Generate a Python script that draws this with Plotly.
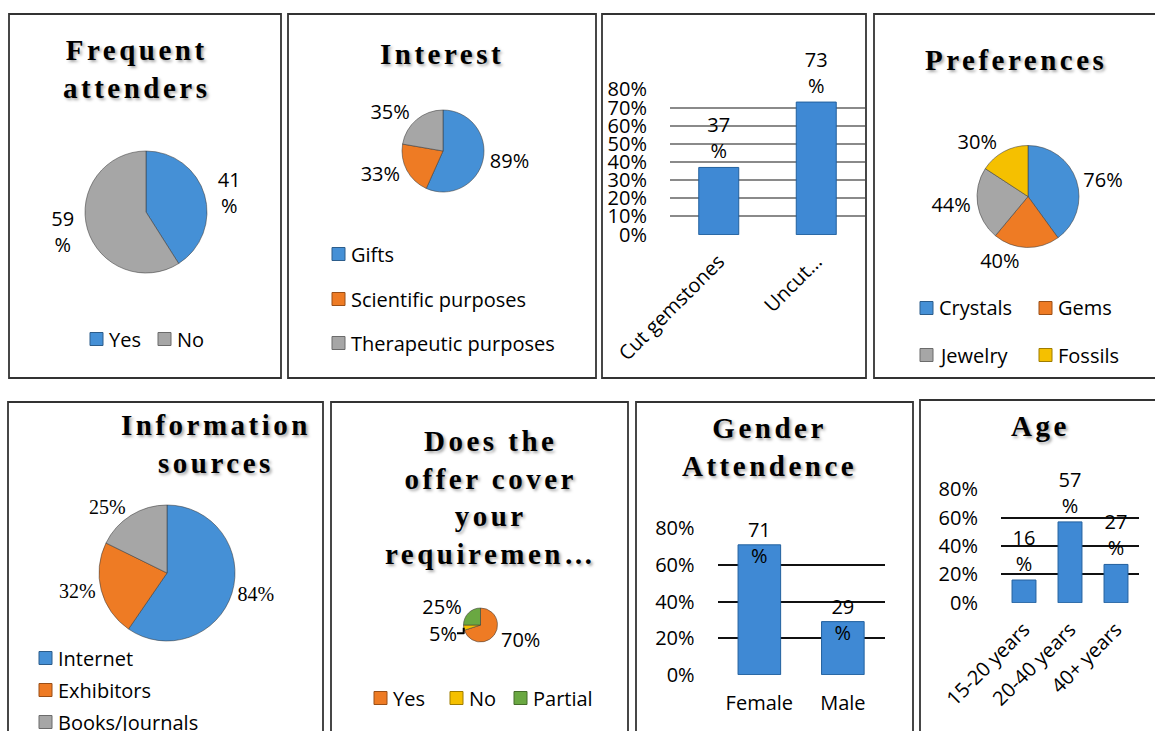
import plotly.graph_objects as go

W, H = 1155, 731


def fx(x):
    return x / W


def fy(y):
    return 1 - y / H


SANS = "Open Sans"
SERIF = "Liberation Serif"
FS = 20

# ---------------- data ----------------
freq_labels = ["Yes", "No"]
freq_values = [41, 59]

interest_labels = ["Gifts", "Scientific purposes", "Therapeutic purposes"]
interest_values = [89, 33, 35]

gem_categories = ["Cut gemstones", "Uncut…"]
gem_values = [37, 73]

pref_labels = ["Crystals", "Gems", "Jewelry", "Fossils"]
pref_values = [76, 40, 44, 30]

info_labels = ["Internet", "Exhibitors", "Books/Journals"]
info_values = [84, 32, 25]

offer_labels = ["Yes", "No", "Partial"]
offer_values = [70, 5, 25]

gender_categories = ["Female", "Male"]
gender_values = [71, 29]

age_categories = ["15-20 years", "20-40 years", "40+ years"]
age_values = [16, 57, 27]

y_ticks_fine = [0, 10, 20, 30, 40, 50, 60, 70, 80]
y_ticks_coarse = [0, 20, 40, 60, 80]

# ---------------- styles ----------------
BLUE = "#4590d6"
ORANGE = "#ee7b24"
GRAY = "#a6a6a6"
YELLOW = "#f5c000"
GREEN = "#6aa842"
BAR = "#3f89d4"
BAR_EDGE = "#22609e"


def darker(hexcol, f=0.65):
    h = hexcol.lstrip("#")
    r, g, b = (int(h[i:i + 2], 16) for i in (0, 2, 4))
    return "rgb(%d,%d,%d)" % (r * f, g * f, b * f)


fig = go.Figure()
shapes = []
annotations = []


def add_pie(labels, values, colors, cx, cy, r, template, family=SANS):
    fig.add_trace(go.Pie(
        labels=labels, values=values, sort=False, direction="clockwise", rotation=0,
        marker=dict(colors=colors, line=dict(color="rgba(60,60,60,0.55)", width=1)),
        textposition="outside", texttemplate=template,
        textfont=dict(family=family, size=FS, color="black"),
        domain=dict(x=[fx(cx - r), fx(cx + r)], y=[fy(cy + r), fy(cy - r)]),
        showlegend=False, hoverinfo="label+value", automargin=False,
    ))


def add_legend(labels, colors, positions, size=13):
    for lab, col, (sx, sy) in zip(labels, colors, positions):
        shapes.append(dict(type="rect", xref="paper", yref="paper",
                           x0=fx(sx), x1=fx(sx + size), y0=fy(sy + size / 2), y1=fy(sy - size / 2),
                           fillcolor=col, line=dict(color=darker(col), width=1)))
        annotations.append(dict(text=lab, x=fx(sx + size + 4), y=fy(sy), xref="paper", yref="paper",
                                xanchor="left", yanchor="middle", showarrow=False,
                                font=dict(family=SANS, size=FS, color="black")))


def add_title(lines, cx, cy, size=29, spacing=3.5):
    txt = "<br>".join('<span style="letter-spacing:%spx">%s</span>' % (spacing, l) for l in lines)
    annotations.append(dict(text=txt, x=fx(cx), y=fy(cy), xref="paper", yref="paper",
                            xanchor="center", yanchor="middle", showarrow=False, align="center",
                            font=dict(family=SERIF, size=size, color="black", weight="bold",
                                      shadow="2px 2px 3px rgba(0,0,0,0.35)")))


def add_bar(cats, vals, xa, ya, width, label_mode):
    fig.add_trace(go.Bar(
        x=cats, y=vals, xaxis=xa, yaxis=ya, width=width,
        marker=dict(color=BAR, line=dict(color=BAR_EDGE, width=1)),
        texttemplate="%{y}<br>%" if label_mode == "outside" else None,
        textposition="outside" if label_mode == "outside" else "none",
        cliponaxis=False, constraintext="none",
        textfont=dict(family=SANS, size=FS, color="black"), showlegend=False,
    ))
    if label_mode == "centered":
        fig.add_trace(go.Scatter(
            x=cats, y=vals, xaxis=xa, yaxis=ya, mode="text",
            texttemplate="%{y}<br>%", textposition="middle center", cliponaxis=False,
            textfont=dict(family=SANS, size=FS, color="black"), showlegend=False, hoverinfo="skip",
        ))


# ---------------- panel borders ----------------
panels = [(9, 14, 281, 378), (288, 14, 596, 378), (602, 14, 866, 378), (874, 14, 1162, 378),
          (8, 402, 323, 740), (331, 402, 628, 740), (636, 402, 913, 740), (920, 400, 1162, 740)]
for (x0, y0, x1, y1) in panels:
    shapes.append(dict(type="rect", xref="paper", yref="paper", x0=fx(x0), x1=fx(x1),
                       y0=fy(y1), y1=fy(y0), line=dict(color="#333333", width=1.8),
                       fillcolor="rgba(0,0,0,0)", layer="above"))

# ---------------- Panel 1: Frequent attenders ----------------
add_title(["Frequent", "attenders"], 136, 69)
add_pie(freq_labels, freq_values, [BLUE, GRAY], 146, 212, 61, "%{value}<br>%")
add_legend(freq_labels, [BLUE, GRAY], [(90, 339), (158, 339)])

# ---------------- Panel 2: Interest ----------------
add_title(["Interest"], 442, 54)
add_pie(interest_labels, interest_values, [BLUE, ORANGE, GRAY], 443, 151, 41, "%{value}%")
add_legend(interest_labels, [BLUE, ORANGE, GRAY], [(332, 254), (332, 299), (332, 343)])

# ---------------- Panel 3: gemstones bar ----------------
add_bar(gem_categories, gem_values, "x", "y", 0.41, "outside")

# ---------------- Panel 4: Preferences ----------------
add_title(["Preferences"], 1016, 60)
add_pie(pref_labels, pref_values, [BLUE, ORANGE, GRAY, YELLOW], 1028, 196.5, 51, "%{value}%")
add_legend(pref_labels, [BLUE, ORANGE, GRAY, YELLOW],
           [(920, 308), (1039, 308), (920, 355), (1039, 355)])

# ---------------- Panel 5: Information sources ----------------
add_title(["Information", "sources"], 216, 444)
add_pie(info_labels, info_values, [BLUE, ORANGE, GRAY], 167, 573, 68, "%{value}%", family=SERIF)
add_legend(info_labels, [BLUE, ORANGE, GRAY], [(39, 658), (39, 690), (39, 722)])

# ---------------- Panel 6: offer ----------------
add_title(["Does the", "offer cover", "your", "requiremen…"], 490, 497)
add_pie(offer_labels, offer_values, [ORANGE, YELLOW, GREEN], 480.5, 625, 17, "%{value}%")
add_legend(offer_labels, [ORANGE, YELLOW, GREEN], [(374, 698), (450, 698), (514, 698)])

# ---------------- Panel 7: Gender ----------------
add_title(["Gender", "Attendence"], 769, 447)
add_bar(gender_categories, gender_values, "x2", "y2", 0.51, "centered")

# ---------------- Panel 8: Age ----------------
add_title(["Age"], 1040, 426)
add_bar(age_categories, age_values, "x3", "y3", 0.52, "outside")

tickfont = dict(family=SANS, size=FS, color="black")


def xax(x0, x1, y_anchor, angle, standoff):
    return dict(domain=[fx(x0), fx(x1)], anchor=y_anchor, tickangle=angle, showgrid=False,
                zeroline=False, showline=False, ticks="", tickfont=tickfont,
                ticklabelstandoff=standoff, fixedrange=True, automargin=False)


def yax(y0, y1, x_anchor, tickvals, gridcolor, standoff):
    return dict(domain=[fy(y0), fy(y1)], anchor=x_anchor, range=[-0.2, 80.2],
                tickvals=tickvals, ticktext=["%d%%" % v for v in tickvals],
                showgrid=True, gridcolor=gridcolor, gridwidth=2, zeroline=False, showline=False,
                ticks="", tickfont=tickfont, ticklabelstandoff=standoff, fixedrange=True,
                automargin=False)


fig.update_layout(
    width=W, height=H, margin=dict(l=0, r=0, t=0, b=0, pad=0, autoexpand=False),
    paper_bgcolor="white", plot_bgcolor="rgba(0,0,0,0)",
    font=dict(family=SANS, size=FS, color="black"),
    showlegend=False,
    xaxis=xax(670, 865, "y", -45, 10),
    yaxis=yax(235, 89, "x", y_ticks_fine, "#8a8a8a", 22),
    xaxis2=xax(717.6, 884.6, "y2", 0, 14),
    yaxis2=yax(675, 528, "x2", y_ticks_coarse, "#111111", 22),
    xaxis3=xax(1001, 1139, "y3", -45, 10),
    yaxis3=yax(603, 489, "x3", y_ticks_coarse, "#111111", 22),
    shapes=shapes,
    annotations=annotations,
    bargap=0.5,
)

fig.write_html("out.html")
